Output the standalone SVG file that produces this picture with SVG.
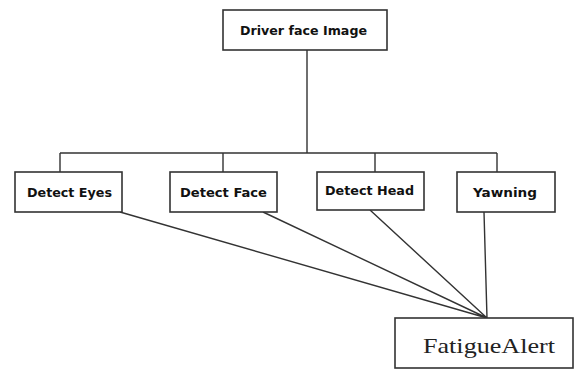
<svg xmlns="http://www.w3.org/2000/svg" width="577" height="371" viewBox="0 0 577 371">
<style>
.box{fill:#fff;stroke:#333;stroke-width:1.6}
.t{font-family:"DejaVu Sans","Liberation Sans",Arial,sans-serif;font-weight:bold;font-size:12px;fill:#111;text-anchor:middle}
.s{font-family:"Liberation Serif","Times New Roman",serif;font-size:21px;fill:#222;text-anchor:middle}
.c{stroke:#333;stroke-width:1.4;fill:none}
</style>
<rect width="577" height="371" fill="#fff"/>
<g id="connectors">
<path class="c" d="M307 50V153M60 153H497M60 153V172M223 153V172M375 153V172M497 153V172"/>
<path class="c" d="M120 212L487 318M263 212L487 318M370 210L487 318M484 212L487 318"/>
</g>
<g id="driver"><rect class="box" x="223" y="10" width="164" height="40"/><text class="t" x="303.5" y="35" textLength="127" lengthAdjust="spacingAndGlyphs">Driver face Image</text></g>
<g id="eyes"><rect class="box" x="15" y="172" width="107" height="40"/><text class="t" x="69.5" y="197" textLength="85" lengthAdjust="spacingAndGlyphs">Detect Eyes</text></g>
<g id="face"><rect class="box" x="170" y="172" width="107" height="40"/><text class="t" x="223.5" y="197" textLength="87" lengthAdjust="spacingAndGlyphs">Detect Face</text></g>
<g id="head"><rect class="box" x="317" y="172" width="107" height="38"/><text class="t" x="369.5" y="195" textLength="89" lengthAdjust="spacingAndGlyphs">Detect Head</text></g>
<g id="yawning"><rect class="box" x="457" y="172" width="98" height="40"/><text class="t" x="505" y="197" textLength="64" lengthAdjust="spacingAndGlyphs">Yawning</text></g>
<g id="alert"><rect class="box" x="395" y="318" width="178" height="50"/><text class="s" x="489" y="353" textLength="132" lengthAdjust="spacingAndGlyphs">FatigueAlert</text></g>
</svg>
